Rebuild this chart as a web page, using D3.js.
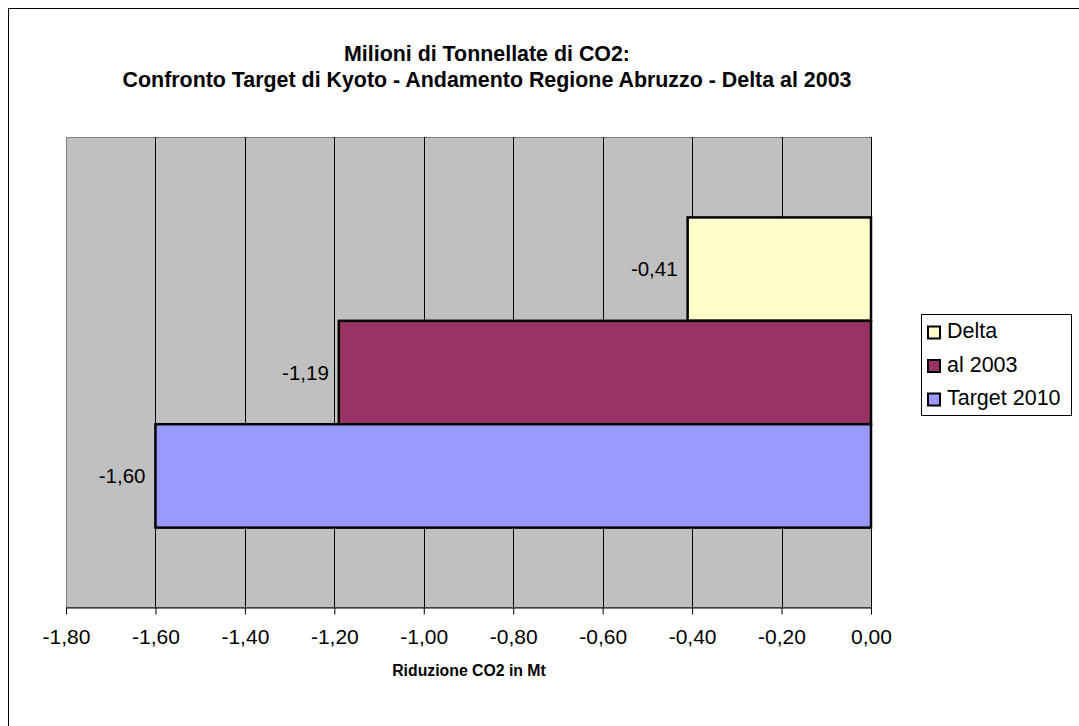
<!DOCTYPE html>
<html lang="it">
<head>
<meta charset="UTF-8">
<title>CO2 Abruzzo</title>
<script src="https://d3js.org/d3.v7.min.js"></script>
<style>
    html,body{margin:0;padding:0;background:#fff;}
    svg{display:block;font-family:"Liberation Sans",Arial,sans-serif;}
</style>
</head>
<body>
<div id="chart"></div>
<script>
    // dati
    const series = ["Delta", "al 2003", "Target 2010"];
    const values = [-0.41, -1.19, -1.60];
    const colors = ["#FFFFCC", "#993366", "#9999FF"];
    const ticks = [-1.8, -1.6, -1.4, -1.2, -1.0, -0.8, -0.6, -0.4, -0.2, 0];
    const titleLines = ["Milioni di Tonnellate di CO2:", "Confronto Target di Kyoto - Andamento Regione Abruzzo - Delta al 2003"];
    const axisTitle = "Riduzione CO2 in Mt";

    const W = 1079, H = 726;
    const plot = {left: 66, right: 871, top: 137, bottom: 607};
    const fmt = v => d3.format(".2f")(v).replace(".", ",").replace("−", "-");

    const svg = d3.select("#chart").append("svg").attr("width", W).attr("height", H);

    // bordo esterno
    svg.append("rect").attr("x", 8.5).attr("y", 8.5).attr("width", W).attr("height", H)
        .attr("fill", "#fff").attr("stroke", "#000").attr("stroke-width", 1);

    // titolo
    const title = svg.append("text").attr("text-anchor", "middle")
        .attr("font-weight", "bold").attr("font-size", 21.4);
    title.selectAll("tspan").data(titleLines).enter().append("tspan")
        .attr("x", 487).attr("y", (d, i) => 61 + i * 26).text(d => d);

    const x = d3.scaleLinear().domain([-1.8, 0]).range([plot.left, plot.right]);
    // una categoria, tre serie affiancate (gap 150%)
    const step = (plot.bottom - plot.top) / 4.5;
    const y = d3.scaleBand().domain(series)
        .range([plot.top + step * 0.77, plot.bottom - step * 0.76]).padding(0);

    // sfondo area grafico
    svg.append("rect").attr("x", plot.left + 0.5).attr("y", plot.top + 0.5)
        .attr("width", plot.right - plot.left).attr("height", plot.bottom - plot.top)
        .attr("fill", "#C0C0C0").attr("stroke", "#808080").attr("stroke-width", 1);

    // griglia
    svg.append("g").selectAll("line").data(ticks.slice(1)).enter().append("line")
        .attr("x1", d => Math.round(x(d)) + 0.5).attr("x2", d => Math.round(x(d)) + 0.5)
        .attr("y1", plot.top).attr("y2", plot.bottom)
        .attr("stroke", "#000").attr("stroke-width", 1);

    // barre
    svg.append("g").selectAll("rect").data(series).enter().append("rect")
        .attr("x", (d, i) => x(values[i]))
        .attr("y", d => y(d))
        .attr("width", (d, i) => x(0) - x(values[i]))
        .attr("height", y.bandwidth())
        .attr("fill", (d, i) => colors[i])
        .attr("stroke", "#000").attr("stroke-width", 2.5);

    // etichette dati
    svg.append("g").selectAll("text").data(series).enter().append("text")
        .attr("x", (d, i) => x(values[i]) - 10)
        .attr("y", d => y(d) + y.bandwidth() / 2)
        .attr("dy", "0.35em")
        .attr("text-anchor", "end").attr("font-size", 20.5)
        .text((d, i) => fmt(values[i]));

    // asse x
    const axis = svg.append("g").attr("transform", `translate(0,${plot.bottom + 0.5})`)
        .call(d3.axisBottom(x).tickValues(ticks).tickSizeInner(7).tickSizeOuter(0).tickPadding(15).tickFormat(fmt));
    axis.select(".domain").attr("stroke", "#000");
    axis.selectAll(".tick line").attr("stroke", "#000");
    axis.selectAll("text").attr("font-size", 21).attr("font-family", "Liberation Sans, Arial, sans-serif").attr("fill", "#000");

    svg.append("text").attr("x", 469).attr("y", 676).attr("text-anchor", "middle")
        .attr("font-weight", "bold").attr("font-size", 15.8).text(axisTitle);

    // legenda
    const leg = svg.append("g");
    leg.append("rect").attr("x", 921.5).attr("y", 314.5).attr("width", 150).attr("height", 101)
        .attr("fill", "#fff").attr("stroke", "#000").attr("stroke-width", 1);
    const item = leg.selectAll("g.item").data(series).enter().append("g")
        .attr("transform", (d, i) => `translate(0,${338 + i * 33.5})`);
    item.append("rect").attr("x", 928).attr("y", -11.5).attr("width", 12).attr("height", 12)
        .attr("fill", (d, i) => colors[i]).attr("stroke", "#000").attr("stroke-width", 2);
    item.append("text").attr("x", 947).attr("y", 0).attr("font-size", 21.5).text(d => d);
</script>
</body>
</html>
